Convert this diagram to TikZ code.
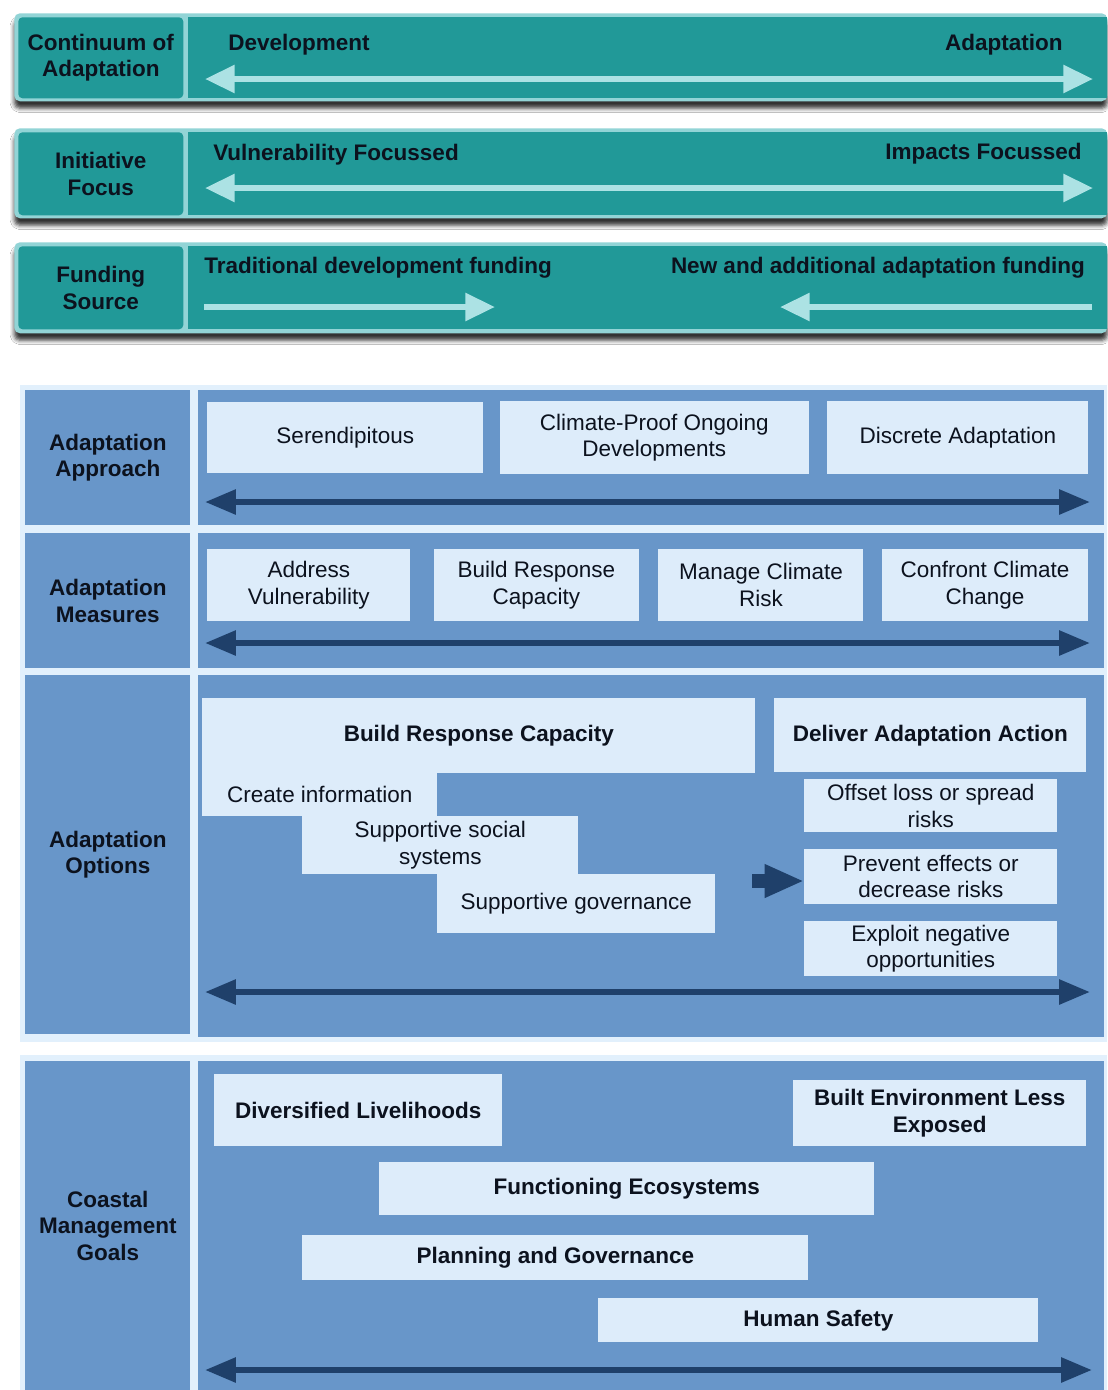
\documentclass[tikz,border=0pt]{standalone}
\usepackage{fontspec}
\setmainfont{Liberation Sans}
\usepackage{tikz}
\usetikzlibrary{positioning}
\usetikzlibrary{calc}
\usetikzlibrary{arrows.meta}
\usetikzlibrary{shadows.blur}

\newlength\pxu
\setlength\pxu{0.025cm}

\definecolor{TealBar}{RGB}{33,153,152}
\definecolor{TealEdge}{RGB}{146,212,214}
\definecolor{TealArrow}{RGB}{172,226,228}
\definecolor{PanelBlue}{RGB}{104,150,201}
\definecolor{BoxBlue}{RGB}{221,236,250}
\definecolor{GapBlue}{RGB}{226,240,252}
\definecolor{ArrowBlue}{RGB}{31,64,106}
\definecolor{Ink}{RGB}{12,18,30}

\tikzset{
	rowframe/.style={fill=TealEdge, rounded corners=4pt, inner sep=0pt, anchor=north west,
		blur shadow={shadow xshift=0pt, shadow yshift=-5pt, shadow blur radius=3pt, shadow opacity=80}},
	rowlabel/.style={fill=TealBar, rounded corners=3pt, inner sep=0pt, anchor=north west,
		align=center, text=Ink, font=\bfseries\fontsize{16}{19}\selectfont},
	rowbar/.style={fill=TealBar, inner sep=0pt, anchor=north west},
	rowtext/.style={text=Ink, inner sep=0pt, font=\bfseries\fontsize{16}{19}\selectfont},
	tealarrow/.style={draw=TealArrow, line width=4.3pt},
	backpanel/.style={fill=GapBlue, inner sep=0pt, anchor=north west},
	panel/.style={fill=PanelBlue, inner sep=0pt, anchor=north west},
	panellabel/.style={panel, align=center, text=Ink, font=\bfseries\fontsize{16}{19}\selectfont},
	optbox/.style={fill=BoxBlue, inner sep=0pt, align=center, text=Ink, font=\fontsize{16}{19}\selectfont},
	goalbox/.style={optbox, font=\bfseries\fontsize{16}{19}\selectfont},
	bluearrow/.style={draw=ArrowBlue, line width=4.3pt},
}

\begin{document}
\begin{tikzpicture}[x=0.025cm, y=-0.025cm]
	\useasboundingbox[fill=white] (0,0) rectangle (1107,1390);
	
	% --- continuum of adaptation
	
	\node[rowframe, minimum width=1093\pxu, minimum height=88\pxu] (cont-frame) at (14,13) {};
	\node[rowlabel, minimum width=165\pxu, minimum height=81\pxu] (cont-label) at (18,17) {Continuum of\\Adaptation};
	\node[rowbar, minimum width=919\pxu, minimum height=81\pxu] (cont-bar) at (188,17) {};
	\node[rowtext, anchor=west] (dev-txt) at (228,45) {Development};
	\node[rowtext, anchor=east] (adapt-txt) at (1063,45) {Adaptation};
	\coordinate (cont-l) at (205,79);
	\coordinate (cont-r) at (1093,79);
	\draw[tealarrow, {Triangle[length=21pt, width=19pt]}-{Triangle[length=21pt, width=19pt]}] (cont-l) -- (cont-r);
	
	% --- initiative focus
	
	\node[rowframe, minimum width=1093\pxu, minimum height=90\pxu] (focus-frame) at (14,128) {};
	\node[rowlabel, minimum width=165\pxu, minimum height=83\pxu] (focus-label) at (18,132) {Initiative\\Focus};
	\node[rowbar, minimum width=919\pxu, minimum height=83\pxu] (focus-bar) at (188,132) {};
	\node[rowtext, anchor=west] (vuln-txt) at (213,155) {Vulnerability Focussed};
	\node[rowtext, anchor=east] (impact-txt) at (1082,154) {Impacts Focussed};
	\coordinate (focus-l) at (205,188);
	\coordinate (focus-r) at (1093,188);
	\draw[tealarrow, {Triangle[length=21pt, width=19pt]}-{Triangle[length=21pt, width=19pt]}] (focus-l) -- (focus-r);
	
	% --- funding source
	
	\node[rowframe, minimum width=1093\pxu, minimum height=91\pxu] (fund-frame) at (14,242) {};
	\node[rowlabel, minimum width=165\pxu, minimum height=83\pxu] (fund-label) at (18,246) {Funding\\Source};
	\node[rowbar, minimum width=919\pxu, minimum height=83\pxu] (fund-bar) at (188,246) {};
	\node[rowtext, anchor=west] (trad-txt) at (204,268) {Traditional development funding};
	\node[rowtext, anchor=east] (new-txt) at (1085,268) {New and additional adaptation funding};
	\coordinate (trad-from) at (204,307);
	\coordinate (trad-to) at (495,307);
	\coordinate (new-from) at (1092,307);
	\coordinate (new-to) at (780,307);
	\draw[tealarrow, -{Triangle[length=21pt, width=19pt]}] (trad-from) -- (trad-to);
	\draw[tealarrow, -{Triangle[length=21pt, width=19pt]}] (new-from) -- (new-to);
	
	% --- lower panels
	
	\node[backpanel, minimum width=1087\pxu, minimum height=657\pxu] (back-upper) at (20,385) {};
	\node[backpanel, minimum width=1087\pxu, minimum height=335\pxu] (back-lower) at (20,1055) {};
	
	% --- adaptation approach
	
	\node[panellabel, minimum width=165\pxu, minimum height=135\pxu] (appr-label) at (25,390) {Adaptation\\Approach};
	\node[panel, minimum width=906\pxu, minimum height=135\pxu] (appr-panel) at (198,390) {};
	\node[optbox, anchor=north west, minimum width=276\pxu, minimum height=71\pxu] (serend) at (207,402) {Serendipitous};
	\node[optbox, minimum width=309\pxu, minimum height=73\pxu, right=0.4cm of serend] (climproof) {Climate-Proof Ongoing\\Developments};
	\node[optbox, minimum width=261\pxu, minimum height=73\pxu, right=0.45cm of climproof] (discrete) {Discrete Adaptation};
	\coordinate (appr-l) at (205,502);
	\coordinate (appr-r) at (1090,502);
	\draw[bluearrow, {Triangle[length=22pt, width=17pt]}-{Triangle[length=22pt, width=17pt]}] (appr-l) -- (appr-r);
	
	% --- adaptation measures
	
	\node[panellabel, minimum width=165\pxu, minimum height=135\pxu] (meas-label) at (25,533) {Adaptation\\Measures};
	\node[panel, minimum width=906\pxu, minimum height=135\pxu] (meas-panel) at (198,533) {};
	\node[optbox, anchor=north west, minimum width=203\pxu, minimum height=72\pxu] (address) at (207,549) {Address\\Vulnerability};
	\node[optbox, minimum width=205\pxu, minimum height=72\pxu, right=0.575cm of address] (buildcap) {Build Response\\Capacity};
	\node[optbox, minimum width=205\pxu, minimum height=72\pxu, right=0.475cm of buildcap] (manage) {Manage Climate\\Risk};
	\node[optbox, minimum width=206\pxu, minimum height=72\pxu, right=0.45cm of manage] (confront) {Confront Climate\\Change};
	\coordinate (meas-l) at (205,643);
	\coordinate (meas-r) at (1090,643);
	\draw[bluearrow, {Triangle[length=22pt, width=17pt]}-{Triangle[length=22pt, width=17pt]}] (meas-l) -- (meas-r);
	
	% --- adaptation options
	
	\node[panellabel, minimum width=165\pxu, minimum height=359\pxu] (opt-label) at (25,675) {Adaptation\\Options};
	\node[panel, minimum width=906\pxu, minimum height=362\pxu] (opt-panel) at (198,675) {};
	\node[goalbox, anchor=north west, minimum width=553\pxu, minimum height=75\pxu] (respcap) at (202,698) {Build Response Capacity};
	\node[optbox, anchor=north west, minimum width=235\pxu, minimum height=43\pxu] (create) at (202,773) {Create information};
	\node[optbox, anchor=north west, minimum width=276\pxu, minimum height=58\pxu] (social) at (302,816) {Supportive social\\systems};
	\node[optbox, anchor=north west, minimum width=278\pxu, minimum height=59\pxu] (govern) at (437,874) {Supportive governance};
	\node[goalbox, anchor=north west, minimum width=312\pxu, minimum height=74\pxu] (deliver) at (774,698) {Deliver Adaptation Action};
	\node[optbox, anchor=north west, minimum width=253\pxu, minimum height=53\pxu] (offset) at (804,779) {Offset loss or spread\\risks};
	\node[optbox, minimum width=253\pxu, minimum height=55\pxu, below=0.4cm of offset] (prevent) {Prevent effects or\\decrease risks};
	\node[optbox, minimum width=253\pxu, minimum height=55\pxu, below=0.42cm of prevent] (exploit) {Exploit negative\\opportunities};
	\coordinate (opt-from) at (752,881);
	\draw[draw=ArrowBlue, line width=10.5pt, -{Triangle[length=28pt, width=22pt]}] (opt-from) -- (opt-from -| prevent.west);
	\coordinate (opt-l) at (205,992);
	\coordinate (opt-r) at (1090,992);
	\draw[bluearrow, {Triangle[length=22pt, width=17pt]}-{Triangle[length=22pt, width=17pt]}] (opt-l) -- (opt-r);
	
	% --- coastal management goals
	
	\node[panellabel, minimum width=165\pxu, minimum height=329\pxu] (goal-label) at (25,1061) {Coastal\\Management\\Goals};
	\node[panel, minimum width=906\pxu, minimum height=329\pxu] (goal-panel) at (198,1061) {};
	\node[goalbox, anchor=north west, minimum width=288\pxu, minimum height=72\pxu] (liveli) at (214,1074) {Diversified Livelihoods};
	\node[goalbox, anchor=north west, minimum width=293\pxu, minimum height=66\pxu] (built) at (793,1080) {Built Environment Less\\Exposed};
	\node[goalbox, anchor=north west, minimum width=495\pxu, minimum height=53\pxu] (ecosys) at (379,1162) {Functioning Ecosystems};
	\node[goalbox, anchor=north west, minimum width=506\pxu, minimum height=45\pxu] (planning) at (302,1235) {Planning and Governance};
	\node[goalbox, anchor=north west, minimum width=440\pxu, minimum height=44\pxu] (safety) at (598,1298) {Human Safety};
	\coordinate (goal-l) at (205,1370);
	\coordinate (goal-r) at (1092,1370);
	\draw[bluearrow, {Triangle[length=22pt, width=17pt]}-{Triangle[length=22pt, width=17pt]}] (goal-l) -- (goal-r);
\end{tikzpicture}
\end{document}
